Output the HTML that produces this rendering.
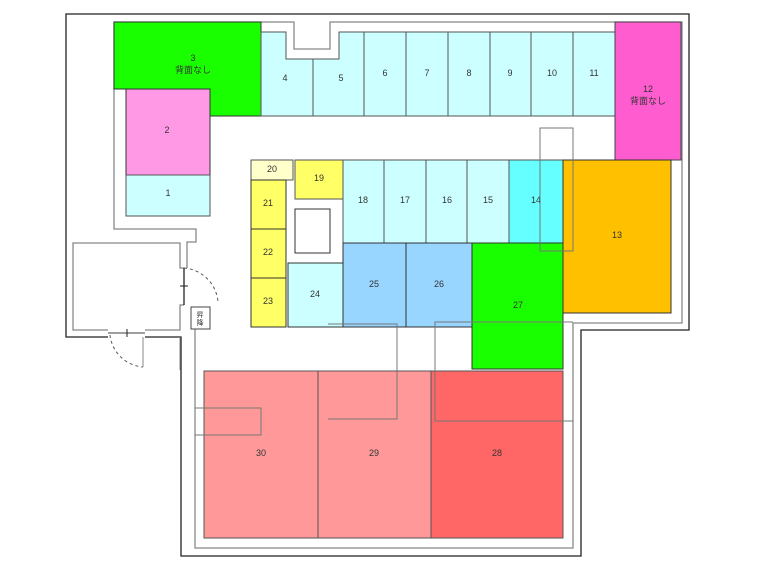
<!DOCTYPE html>
<html><head><meta charset="utf-8"><style>
body{margin:0;background:#fff}
svg text{font-family:"Liberation Sans","Noto Sans CJK JP",sans-serif;font-size:9px;fill:#333;text-anchor:middle}
</style></head><body>
<svg width="758" height="565" viewBox="0 0 758 565" xmlns="http://www.w3.org/2000/svg">
<rect width="758" height="565" fill="#fff"/>
<!-- outer wall -->
<polyline points="108,337 66,337 66,14 689,14 689,330 581,330 581,556 181,556 181,337 145,337" fill="none" stroke="#222" stroke-width="1.3"/>
<!-- inner wall -->
<polyline points="187,268 187,242 196,242 196,229 114,229 114,22 294,22 294,49 330,49 330,22 682,22 682,323 573,323 573,548 195,548 195,308" fill="none" stroke="#888" stroke-width="1.3"/>
<!-- entrance room -->
<polyline points="184,268 180,268 180,243 73,243 73,330 108,330" fill="none" stroke="#888" stroke-width="1.3"/>
<polyline points="145,330 180,330 180,305 184,305" fill="none" stroke="#888" stroke-width="1.3"/>
<line x1="184" y1="268" x2="184" y2="305" stroke="#222" stroke-width="1.3"/>
<line x1="180" y1="286" x2="188" y2="286" stroke="#222"/>
<path d="M184,268 A37,37 0 0 1 218,302" fill="none" stroke="#555" stroke-dasharray="3,3"/>
<line x1="108" y1="333" x2="145" y2="333" stroke="#666" stroke-width="1.3"/>
<line x1="127" y1="329" x2="127" y2="337" stroke="#222"/>
<path d="M110,335 A36,36 0 0 0 143,367" fill="none" stroke="#555" stroke-dasharray="3,3"/>
<line x1="143" y1="337" x2="143" y2="367" stroke="#888"/>
<line x1="180" y1="337" x2="180" y2="370" stroke="#888"/>
<rect x="191" y="307" width="19" height="22" fill="#fff" stroke="#444"/>
<text x="200" y="317" style="font-size:7px">昇</text><text x="200" y="325" style="font-size:7px">降</text>
<!-- 3 green -->
<polygon points="114,22 261,22 261,116 210,116 210,89 114,89" fill="#1aff00" stroke="#333"/>
<text x="193" y="61">3</text><text x="193" y="73">背面なし</text>
<rect x="126" y="89" width="84" height="86" fill="#ff99e6" stroke="#333"/><text x="167" y="133">2</text>
<rect x="126" y="175" width="84" height="41" fill="#ccffff" stroke="#555"/><text x="168" y="196">1</text>
<!-- top row -->
<polygon points="261,32 286,32 286,59 313,59 313,116 261,116" fill="#ccffff" stroke="#555"/><text x="285" y="81">4</text>
<polygon points="313,59 339,59 339,32 364,32 364,116 313,116" fill="#ccffff" stroke="#555"/><text x="341" y="81">5</text>
<rect x="364" y="32" width="42" height="84" fill="#ccffff" stroke="#555"/><text x="385" y="76">6</text>
<rect x="406" y="32" width="42" height="84" fill="#ccffff" stroke="#555"/><text x="427" y="76">7</text>
<rect x="448" y="32" width="42" height="84" fill="#ccffff" stroke="#555"/><text x="469" y="76">8</text>
<rect x="490" y="32" width="41" height="84" fill="#ccffff" stroke="#555"/><text x="510" y="76">9</text>
<rect x="531" y="32" width="42" height="84" fill="#ccffff" stroke="#555"/><text x="552" y="76">10</text>
<rect x="573" y="32" width="42" height="84" fill="#ccffff" stroke="#555"/><text x="594" y="76">11</text>
<rect x="615" y="22" width="66" height="138" fill="#ff5ccf" stroke="#444"/><text x="648" y="92">12</text><text x="648" y="104">背面なし</text>
<!-- middle -->
<rect x="251" y="160" width="42" height="20" fill="#ffffcc" stroke="#555"/><text x="272" y="172">20</text>
<rect x="295" y="160" width="48" height="39" fill="#ffff66" stroke="#555"/><text x="319" y="181">19</text>
<rect x="343" y="160" width="41" height="83" fill="#ccffff" stroke="#555"/><text x="363" y="203">18</text>
<rect x="384" y="160" width="42" height="83" fill="#ccffff" stroke="#555"/><text x="405" y="203">17</text>
<rect x="426" y="160" width="41" height="83" fill="#ccffff" stroke="#555"/><text x="447" y="203">16</text>
<rect x="467" y="160" width="42" height="83" fill="#ccffff" stroke="#555"/><text x="488" y="203">15</text>
<rect x="509" y="160" width="54" height="83" fill="#66ffff" stroke="#555"/><text x="536" y="203">14</text>
<rect x="563" y="160" width="108" height="153" fill="#ffc000" stroke="#333"/><text x="617" y="238">13</text>
<rect x="251" y="180" width="35" height="49" fill="#ffff66" stroke="#333"/><text x="268" y="206">21</text>
<rect x="251" y="229" width="35" height="49" fill="#ffff66" stroke="#333"/><text x="268" y="255">22</text>
<rect x="251" y="278" width="35" height="49" fill="#ffff66" stroke="#333"/><text x="268" y="304">23</text>
<rect x="295" y="209" width="35" height="44" fill="#fff" stroke="#333"/>
<rect x="288" y="263" width="55" height="64" fill="#ccffff" stroke="#333"/><text x="315" y="297">24</text>
<rect x="343" y="243" width="63" height="84" fill="#99d6ff" stroke="#333"/><text x="374" y="287">25</text>
<rect x="406" y="243" width="66" height="84" fill="#99d6ff" stroke="#333"/><text x="439" y="287">26</text>
<rect x="472" y="243" width="91" height="126" fill="#1aff00" stroke="#333"/><text x="518" y="308">27</text>
<!-- bottom -->
<rect x="204" y="371" width="114" height="167" fill="#ff9999" stroke="#555"/><text x="261" y="456">30</text>
<rect x="318" y="371" width="113" height="167" fill="#ff9999" stroke="#555"/><text x="374" y="456">29</text>
<rect x="431" y="371" width="132" height="167" fill="#ff6666" stroke="#555"/><text x="497" y="456">28</text>
<!-- overlay lines -->
<rect x="540" y="128" width="33" height="123" fill="none" stroke="#777"/>
<polyline points="328,324 397,324 397,419 328,419" fill="none" stroke="#777"/>
<polyline points="573,322 435,322 435,421 573,421" fill="none" stroke="#777"/>
<polyline points="195,408 261,408 261,435 195,435" fill="none" stroke="#777"/>
</svg>
</body></html>
